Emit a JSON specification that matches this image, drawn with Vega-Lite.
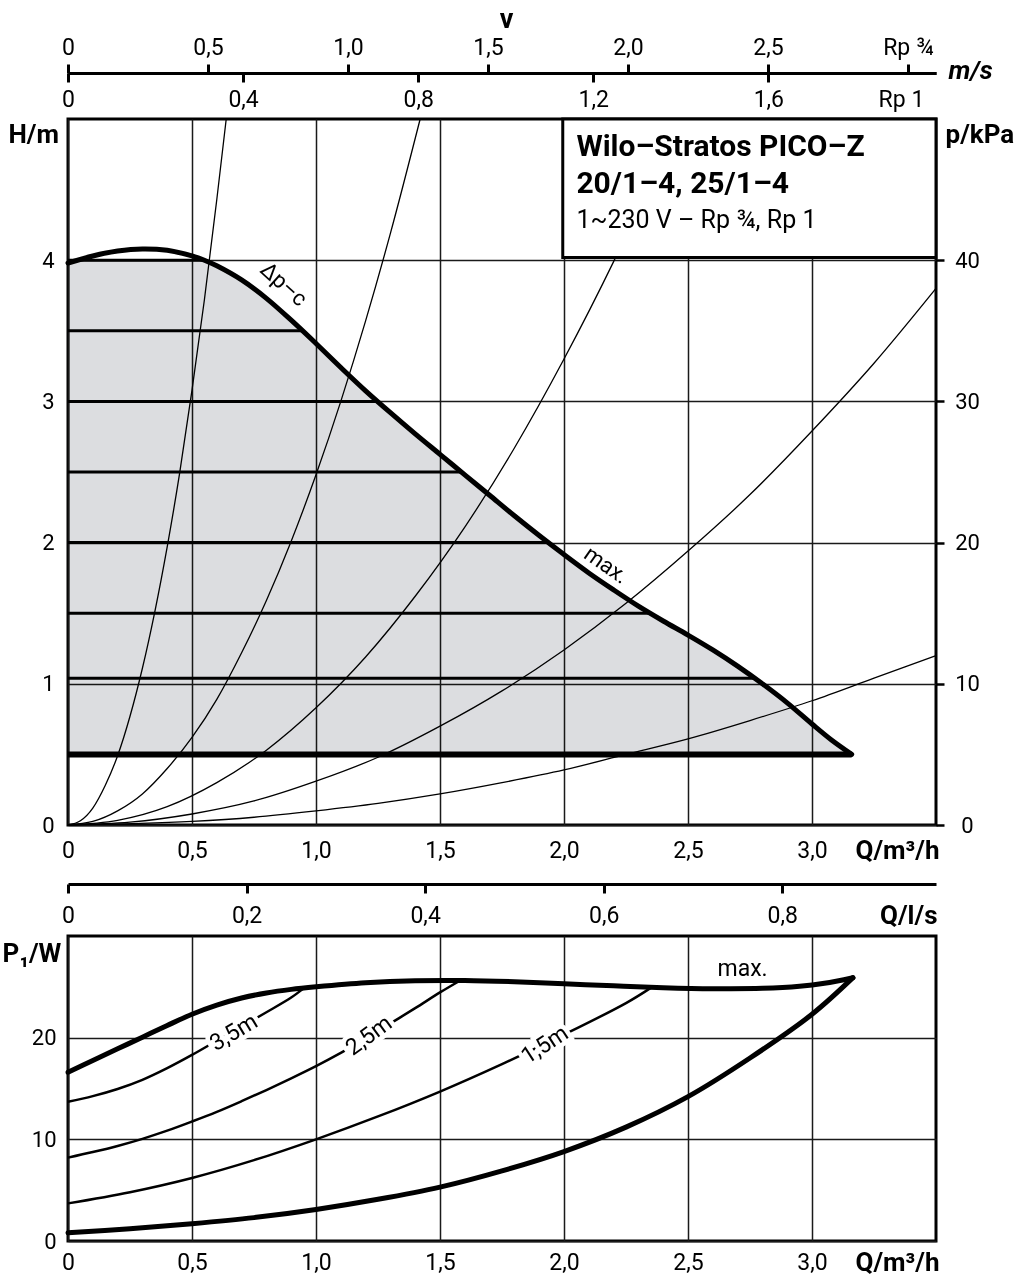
{
"$schema": "https://vega.github.io/schema/vega-lite/v6.json",
"background": "white",
"padding": {"left": 0, "top": 3, "right": 2, "bottom": 2},
"bounds": "flush",
"spacing": 111,
"config": {
  "font": "Roboto",
  "view": {"stroke": "black", "strokeWidth": 3},
  "axis": {"labelFont": "Roboto", "labelFontSize": 22, "labelColor": "black", "titleFont": "Roboto", "titleFontSize": 26, "titleFontWeight": "bold", "titleColor": "black", "gridColor": "#1a1a1a", "gridWidth": 1.5, "gridOpacity": 1, "domain": false, "ticks": false, "labelFlush": false, "labelOverlap": false, "labelBound": false, "tickColor": "black", "domainColor": "black"}
},
"datasets": {
  "maxH": [
    {"Q": 0, "H": 3.98, "fill": 3.98}, {"Q": 0.1, "H": 4.03, "fill": 4.0}, {"Q": 0.2, "H": 4.065, "fill": 4.0}, {"Q": 0.3, "H": 4.08, "fill": 4.0}, {"Q": 0.4, "H": 4.07, "fill": 4.0}, {"Q": 0.5, "H": 4.03, "fill": 4.0}, {"Q": 0.55, "H": 4.0, "fill": 4.0}, {"Q": 0.6, "H": 3.96, "fill": 3.96}, {"Q": 0.7, "H": 3.86, "fill": 3.86}, {"Q": 0.8, "H": 3.73, "fill": 3.73}, {"Q": 0.9, "H": 3.575, "fill": 3.575}, {"Q": 1.0, "H": 3.41, "fill": 3.41}, {"Q": 1.1, "H": 3.24, "fill": 3.24}, {"Q": 1.2, "H": 3.075, "fill": 3.075}, {"Q": 1.3, "H": 2.92, "fill": 2.92}, {"Q": 1.4, "H": 2.77, "fill": 2.77}, {"Q": 1.5, "H": 2.625, "fill": 2.625}, {"Q": 1.6, "H": 2.48, "fill": 2.48}, {"Q": 1.7, "H": 2.335, "fill": 2.335}, {"Q": 1.8, "H": 2.19, "fill": 2.19}, {"Q": 1.9, "H": 2.05, "fill": 2.05}, {"Q": 2.0, "H": 1.915, "fill": 1.915}, {"Q": 2.1, "H": 1.785, "fill": 1.785}, {"Q": 2.2, "H": 1.665, "fill": 1.665}, {"Q": 2.3, "H": 1.55, "fill": 1.55}, {"Q": 2.4, "H": 1.445, "fill": 1.445}, {"Q": 2.5, "H": 1.345, "fill": 1.345}, {"Q": 2.6, "H": 1.24, "fill": 1.24}, {"Q": 2.7, "H": 1.125, "fill": 1.125}, {"Q": 2.8, "H": 1.0, "fill": 1.0}, {"Q": 2.9, "H": 0.865, "fill": 0.865}, {"Q": 3.0, "H": 0.715, "fill": 0.715}, {"Q": 3.08, "H": 0.6, "fill": 0.6}, {"Q": 3.16, "H": 0.5, "fill": 0.5}
  ],
  "dpc": [
    {"H": 4.0, "Q0": 0, "Q1": 0.55}, {"H": 3.5, "Q0": 0, "Q1": 0.945}, {"H": 3.0, "Q0": 0, "Q1": 1.25}, {"H": 2.5, "Q0": 0, "Q1": 1.585}, {"H": 2.0, "Q0": 0, "Q1": 1.935}, {"H": 1.5, "Q0": 0, "Q1": 2.345}, {"H": 1.04, "Q0": 0, "Q1": 2.77}, {"H": 0.5, "Q0": 0, "Q1": 3.16}
  ],
  "sys": [
    {"c": "A", "Q": 0, "H": 0}, {"c": "A", "Q": 0.05, "H": 0.03}, {"c": "A", "Q": 0.1, "H": 0.12}, {"c": "A", "Q": 0.15, "H": 0.28}, {"c": "A", "Q": 0.2, "H": 0.49}, {"c": "A", "Q": 0.25, "H": 0.77}, {"c": "A", "Q": 0.3, "H": 1.11}, {"c": "A", "Q": 0.35, "H": 1.51}, {"c": "A", "Q": 0.4, "H": 1.97}, {"c": "A", "Q": 0.45, "H": 2.49}, {"c": "A", "Q": 0.5, "H": 3.08}, {"c": "A", "Q": 0.55, "H": 3.72}, {"c": "A", "Q": 0.6, "H": 4.43}, {"c": "A", "Q": 0.638, "H": 5.0},
    {"c": "B", "Q": 0, "H": 0}, {"c": "B", "Q": 0.1, "H": 0.025}, {"c": "B", "Q": 0.2, "H": 0.1}, {"c": "B", "Q": 0.3, "H": 0.22}, {"c": "B", "Q": 0.4, "H": 0.4}, {"c": "B", "Q": 0.5, "H": 0.62}, {"c": "B", "Q": 0.6, "H": 0.89}, {"c": "B", "Q": 0.7, "H": 1.22}, {"c": "B", "Q": 0.8, "H": 1.59}, {"c": "B", "Q": 0.9, "H": 2.01}, {"c": "B", "Q": 1.0, "H": 2.48}, {"c": "B", "Q": 1.1, "H": 3.0}, {"c": "B", "Q": 1.2, "H": 3.57}, {"c": "B", "Q": 1.3, "H": 4.19}, {"c": "B", "Q": 1.42, "H": 5.0},
    {"c": "C", "Q": 0, "H": 0}, {"c": "C", "Q": 0.2, "H": 0.033}, {"c": "C", "Q": 0.4, "H": 0.13}, {"c": "C", "Q": 0.6, "H": 0.3}, {"c": "C", "Q": 0.8, "H": 0.53}, {"c": "C", "Q": 1.0, "H": 0.83}, {"c": "C", "Q": 1.2, "H": 1.19}, {"c": "C", "Q": 1.4, "H": 1.62}, {"c": "C", "Q": 1.6, "H": 2.11}, {"c": "C", "Q": 1.8, "H": 2.67}, {"c": "C", "Q": 2.0, "H": 3.3}, {"c": "C", "Q": 2.2, "H": 3.99}, {"c": "C", "Q": 2.4, "H": 4.75},
    {"c": "D", "Q": 0, "H": 0}, {"c": "D", "Q": 0.25, "H": 0.02}, {"c": "D", "Q": 0.5, "H": 0.078}, {"c": "D", "Q": 0.75, "H": 0.17}, {"c": "D", "Q": 1.0, "H": 0.31}, {"c": "D", "Q": 1.25, "H": 0.48}, {"c": "D", "Q": 1.5, "H": 0.7}, {"c": "D", "Q": 1.75, "H": 0.95}, {"c": "D", "Q": 2.0, "H": 1.24}, {"c": "D", "Q": 2.25, "H": 1.57}, {"c": "D", "Q": 2.5, "H": 1.94}, {"c": "D", "Q": 2.75, "H": 2.34}, {"c": "D", "Q": 3.0, "H": 2.79}, {"c": "D", "Q": 3.25, "H": 3.27}, {"c": "D", "Q": 3.5, "H": 3.8},
    {"c": "E", "Q": 0, "H": 0}, {"c": "E", "Q": 0.5, "H": 0.025}, {"c": "E", "Q": 0.75, "H": 0.055}, {"c": "E", "Q": 1.0, "H": 0.1}, {"c": "E", "Q": 1.25, "H": 0.153}, {"c": "E", "Q": 1.5, "H": 0.22}, {"c": "E", "Q": 1.75, "H": 0.3}, {"c": "E", "Q": 2.0, "H": 0.39}, {"c": "E", "Q": 2.25, "H": 0.5}, {"c": "E", "Q": 2.5, "H": 0.61}, {"c": "E", "Q": 2.75, "H": 0.74}, {"c": "E", "Q": 3.0, "H": 0.88}, {"c": "E", "Q": 3.25, "H": 1.04}, {"c": "E", "Q": 3.5, "H": 1.2}
  ],
  "box": [{"Q0": 1.995, "Q1": 3.5, "H0": 4.02, "H1": 5.0}],
  "boxText": [
    {"line": 1, "text": "Wilo–Stratos PICO–Z", "Q": 2.05, "H": 4.736},
    {"line": 2, "text": "20/1–4, 25/1–4", "Q": 2.05, "H": 4.475},
    {"line": 3, "text": "1~230 V – Rp ¾, Rp 1", "Q": 2.05, "H": 4.227}
  ],
  "topLab": [{"text": "Δp–c", "Q": 0.87, "H": 3.83}, {"text": "max.", "Q": 2.17, "H": 1.84}],
  "pAxis": [{"p": 0}, {"p": 50}],
  "vRp34": [{"v": 0}, {"v": 3.1}],
  "vRp1": [{"v": 0}, {"v": 1.983}],
  "qls": [{"q": 0}, {"q": 0.9722}],
  "p1": [
    {"c": "max", "Q": 0, "P": 16.6}, {"c": "max", "Q": 0.1, "P": 17.75}, {"c": "max", "Q": 0.2, "P": 18.9}, {"c": "max", "Q": 0.3, "P": 20.05}, {"c": "max", "Q": 0.4, "P": 21.2}, {"c": "max", "Q": 0.5, "P": 22.3}, {"c": "max", "Q": 0.6, "P": 23.2}, {"c": "max", "Q": 0.7, "P": 23.9}, {"c": "max", "Q": 0.8, "P": 24.4}, {"c": "max", "Q": 0.9, "P": 24.75}, {"c": "max", "Q": 1.0, "P": 25.0}, {"c": "max", "Q": 1.2, "P": 25.4}, {"c": "max", "Q": 1.4, "P": 25.6}, {"c": "max", "Q": 1.6, "P": 25.62}, {"c": "max", "Q": 1.8, "P": 25.5}, {"c": "max", "Q": 2.0, "P": 25.3}, {"c": "max", "Q": 2.2, "P": 25.1}, {"c": "max", "Q": 2.4, "P": 24.92}, {"c": "max", "Q": 2.6, "P": 24.82}, {"c": "max", "Q": 2.8, "P": 24.85}, {"c": "max", "Q": 2.95, "P": 25.05}, {"c": "max", "Q": 3.05, "P": 25.35}, {"c": "max", "Q": 3.165, "P": 25.9},
    {"c": "min", "Q": 0, "P": 0.8}, {"c": "min", "Q": 0.25, "P": 1.2}, {"c": "min", "Q": 0.5, "P": 1.7}, {"c": "min", "Q": 0.75, "P": 2.3}, {"c": "min", "Q": 1.0, "P": 3.1}, {"c": "min", "Q": 1.25, "P": 4.1}, {"c": "min", "Q": 1.5, "P": 5.3}, {"c": "min", "Q": 1.75, "P": 6.9}, {"c": "min", "Q": 2.0, "P": 8.8}, {"c": "min", "Q": 2.25, "P": 11.2}, {"c": "min", "Q": 2.5, "P": 14.2}, {"c": "min", "Q": 2.75, "P": 18.0}, {"c": "min", "Q": 3.0, "P": 22.3}, {"c": "min", "Q": 3.165, "P": 25.9},
    {"c": "3,5m", "Q": 0, "P": 13.7}, {"c": "3,5m", "Q": 0.1, "P": 14.25}, {"c": "3,5m", "Q": 0.2, "P": 14.95}, {"c": "3,5m", "Q": 0.3, "P": 15.85}, {"c": "3,5m", "Q": 0.4, "P": 17.0}, {"c": "3,5m", "Q": 0.5, "P": 18.3}, {"c": "3,5m", "Q": 0.6, "P": 19.7}, {"c": "3,5m", "Q": 0.7, "P": 21.1}, {"c": "3,5m", "Q": 0.8, "P": 22.5}, {"c": "3,5m", "Q": 0.9, "P": 23.95}, {"c": "3,5m", "Q": 0.95, "P": 24.85},
    {"c": "2,5m", "Q": 0, "P": 8.2}, {"c": "2,5m", "Q": 0.1, "P": 8.75}, {"c": "2,5m", "Q": 0.2, "P": 9.35}, {"c": "2,5m", "Q": 0.3, "P": 10.05}, {"c": "2,5m", "Q": 0.4, "P": 10.85}, {"c": "2,5m", "Q": 0.5, "P": 11.75}, {"c": "2,5m", "Q": 0.6, "P": 12.7}, {"c": "2,5m", "Q": 0.7, "P": 13.75}, {"c": "2,5m", "Q": 0.8, "P": 14.85}, {"c": "2,5m", "Q": 0.9, "P": 16.0}, {"c": "2,5m", "Q": 1.0, "P": 17.2}, {"c": "2,5m", "Q": 1.1, "P": 18.5}, {"c": "2,5m", "Q": 1.2, "P": 19.9}, {"c": "2,5m", "Q": 1.3, "P": 21.4}, {"c": "2,5m", "Q": 1.4, "P": 22.9}, {"c": "2,5m", "Q": 1.5, "P": 24.45}, {"c": "2,5m", "Q": 1.58, "P": 25.6},
    {"c": "1,5m", "Q": 0, "P": 3.7}, {"c": "1,5m", "Q": 0.25, "P": 4.8}, {"c": "1,5m", "Q": 0.5, "P": 6.2}, {"c": "1,5m", "Q": 0.75, "P": 7.95}, {"c": "1,5m", "Q": 1.0, "P": 10.0}, {"c": "1,5m", "Q": 1.25, "P": 12.25}, {"c": "1,5m", "Q": 1.5, "P": 14.7}, {"c": "1,5m", "Q": 1.75, "P": 17.4}, {"c": "1,5m", "Q": 2.0, "P": 20.3}, {"c": "1,5m", "Q": 2.25, "P": 23.4}, {"c": "1,5m", "Q": 2.35, "P": 24.9}
  ],
  "p1Lab": [
    {"text": "3,5m", "Q": 0.669, "P": 20.5},
    {"text": "2,5m", "Q": 1.214, "P": 20.2},
    {"text": "1,5m", "Q": 1.923, "P": 19.3},
    {"text": "max.", "Q": 2.72, "P": 26.8}
  ]
},
"vconcat": [
  {
    "width": 868,
    "height": 706,
    "resolve": {"scale": {"x": "independent", "y": "independent"}},
    "layer": [
      {
        "data": {"name": "maxH"},
        "mark": {"type": "area", "fill": "#dcdde0", "blend": "multiply", "interpolate": "catmull-rom"},
        "encoding": {
          "x": {"field": "Q", "type": "quantitative", "scale": {"domain": [0, 3.5], "nice": false},
            "axis": {"orient": "bottom", "values": [0, 0.5, 1, 1.5, 2, 2.5, 3], "grid": true, "labelExpr": "datum.value==0?'0':replace(format(datum.value,'.1f'),'.',',')", "labelPadding": 25, "labelBaseline": "middle", "labelFontSize": 23, "title": "Q/m³/h", "titleX": 871, "titleY": 25, "titleAlign": "right", "titleBaseline": "middle"}},
          "y": {"field": "fill", "type": "quantitative", "scale": {"domain": [0, 5], "nice": false},
            "axis": {"orient": "left", "values": [0, 1, 2, 3, 4], "grid": true, "format": "d", "labelPadding": 14, "labelBaseline": "middle", "title": "H/m", "titleAngle": 0, "titleX": -60, "titleY": 15, "titleAlign": "left", "titleBaseline": "middle"}},
          "y2": {"datum": 0.5}
        }
      },
      {
        "data": {"name": "sys"},
        "mark": {"type": "line", "color": "black", "strokeWidth": 1.3, "interpolate": "monotone"},
        "encoding": {
          "x": {"field": "Q", "type": "quantitative", "scale": {"domain": [0, 3.5], "nice": false}, "axis": null},
          "y": {"field": "H", "type": "quantitative", "scale": {"domain": [0, 5], "nice": false}, "axis": null},
          "detail": {"field": "c"}
        }
      },
      {
        "data": {"name": "dpc"},
        "transform": [{"filter": "datum.H > 0.6"}],
        "mark": {"type": "rule", "color": "black", "strokeWidth": 3},
        "encoding": {
          "x": {"field": "Q0", "type": "quantitative", "scale": {"domain": [0, 3.5], "nice": false}, "axis": null},
          "x2": {"field": "Q1"},
          "y": {"field": "H", "type": "quantitative", "scale": {"domain": [0, 5], "nice": false}, "axis": null}
        }
      },
      {
        "data": {"name": "dpc"},
        "transform": [{"filter": "datum.H < 0.6"}],
        "mark": {"type": "rule", "color": "black", "strokeWidth": 6},
        "encoding": {
          "x": {"field": "Q0", "type": "quantitative", "scale": {"domain": [0, 3.5], "nice": false}, "axis": null},
          "x2": {"field": "Q1"},
          "y": {"field": "H", "type": "quantitative", "scale": {"domain": [0, 5], "nice": false}, "axis": null}
        }
      },
      {
        "data": {"name": "maxH"},
        "mark": {"type": "line", "color": "black", "strokeWidth": 5, "interpolate": "catmull-rom", "strokeJoin": "round", "strokeCap": "round"},
        "encoding": {
          "x": {"field": "Q", "type": "quantitative", "scale": {"domain": [0, 3.5], "nice": false}, "axis": null},
          "y": {"field": "H", "type": "quantitative", "scale": {"domain": [0, 5], "nice": false}, "axis": null}
        }
      },
      {
        "data": {"name": "box"},
        "mark": {"type": "rect", "fill": "white", "stroke": "black", "strokeWidth": 3},
        "encoding": {
          "x": {"field": "Q0", "type": "quantitative", "scale": {"domain": [0, 3.5], "nice": false}, "axis": null},
          "x2": {"field": "Q1"},
          "y": {"field": "H0", "type": "quantitative", "scale": {"domain": [0, 5], "nice": false}, "axis": null},
          "y2": {"field": "H1"}
        }
      },
      {
        "data": {"name": "boxText"},
        "transform": [{"filter": "datum.line < 3"}],
        "mark": {"type": "text", "align": "left", "baseline": "alphabetic", "fontSize": 30, "fontWeight": "bold", "color": "black"},
        "encoding": {
          "x": {"field": "Q", "type": "quantitative", "scale": {"domain": [0, 3.5], "nice": false}, "axis": null},
          "y": {"field": "H", "type": "quantitative", "scale": {"domain": [0, 5], "nice": false}, "axis": null},
          "text": {"field": "text"}
        }
      },
      {
        "data": {"name": "boxText"},
        "transform": [{"filter": "datum.line == 3"}],
        "mark": {"type": "text", "align": "left", "baseline": "alphabetic", "fontSize": 25, "color": "black"},
        "encoding": {
          "x": {"field": "Q", "type": "quantitative", "scale": {"domain": [0, 3.5], "nice": false}, "axis": null},
          "y": {"field": "H", "type": "quantitative", "scale": {"domain": [0, 5], "nice": false}, "axis": null},
          "text": {"field": "text"}
        }
      },
      {
        "data": {"name": "topLab"},
        "transform": [{"filter": "datum.text == 'max.'"}],
        "mark": {"type": "text", "align": "center", "baseline": "middle", "fontSize": 22, "angle": 35, "color": "black"},
        "encoding": {
          "x": {"field": "Q", "type": "quantitative", "scale": {"domain": [0, 3.5], "nice": false}, "axis": null},
          "y": {"field": "H", "type": "quantitative", "scale": {"domain": [0, 5], "nice": false}, "axis": null},
          "text": {"field": "text"}
        }
      },
      {
        "data": {"name": "topLab"},
        "transform": [{"filter": "datum.text != 'max.'"}],
        "mark": {"type": "text", "align": "center", "baseline": "middle", "fontSize": 22, "angle": 42, "color": "black"},
        "encoding": {
          "x": {"field": "Q", "type": "quantitative", "scale": {"domain": [0, 3.5], "nice": false}, "axis": null},
          "y": {"field": "H", "type": "quantitative", "scale": {"domain": [0, 5], "nice": false}, "axis": null},
          "text": {"field": "text"}
        }
      },
      {
        "data": {"name": "pAxis"},
        "mark": {"type": "point", "opacity": 0},
        "encoding": {
          "x": {"field": "p", "type": "quantitative", "axis": null},
          "y": {"field": "p", "type": "quantitative", "scale": {"domain": [0, 50], "nice": false},
            "axis": {"orient": "right", "values": [0, 10, 20, 30, 40], "format": "d", "ticks": true, "tickSize": 8, "tickWidth": 2.5, "labelAlign": "center", "labelPadding": 23, "labelBaseline": "middle", "grid": false, "title": "p/kPa", "titleAngle": 0, "titleX": 9, "titleY": 15, "titleAlign": "left", "titleBaseline": "middle"}}
        }
      },
      {
        "data": {"name": "vRp34"},
        "mark": {"type": "point", "opacity": 0},
        "encoding": {
          "y": {"field": "v", "type": "quantitative", "axis": null},
          "x": {"field": "v", "type": "quantitative", "scale": {"domain": [0, 3.1], "nice": false},
            "axis": {"orient": "top", "offset": 46, "domain": true, "domainWidth": 3, "ticks": true, "tickSize": 9, "tickWidth": 3, "values": [0, 0.5, 1, 1.5, 2, 2.5, 3], "labelExpr": "datum.value==3?'Rp ¾':(datum.value==0?'0':replace(format(datum.value,'.1f'),'.',','))", "labelPadding": 17, "labelBaseline": "middle", "labelFontSize": 23, "grid": false, "title": "v", "titleX": 438, "titleY": -54, "titleAlign": "center", "titleBaseline": "middle", "titleFontSize": 27}}
        }
      },
      {
        "data": {"name": "vRp1"},
        "mark": {"type": "point", "opacity": 0},
        "encoding": {
          "y": {"field": "v", "type": "quantitative", "axis": null},
          "x": {"field": "v", "type": "quantitative", "scale": {"domain": [0, 1.983], "nice": false},
            "axis": {"orient": "top", "offset": 46, "domain": true, "domainWidth": 3, "ticks": true, "tickSize": -9, "tickWidth": 3, "tickOpacity": {"condition": {"test": "datum.value > 1.8", "value": 0}, "value": 1}, "values": [0, 0.4, 0.8, 1.2, 1.6, 1.903], "labelExpr": "datum.value>1.8?'Rp 1':(datum.value==0?'0':replace(format(datum.value,'.1f'),'.',','))", "labelPadding": -17, "labelBaseline": "middle", "labelFontSize": 23, "grid": false, "title": "m/s", "titleX": 880, "titleY": -3, "titleAlign": "left", "titleBaseline": "middle", "titleFontSize": 26, "titleFontStyle": "italic"}}
        }
      },
      {
        "data": {"name": "qls"},
        "mark": {"type": "point", "opacity": 0},
        "encoding": {
          "y": {"field": "q", "type": "quantitative", "axis": null},
          "x": {"field": "q", "type": "quantitative", "scale": {"domain": [0, 0.9722], "nice": false},
            "axis": {"orient": "bottom", "offset": 59, "domain": true, "domainWidth": 3, "ticks": true, "tickSize": 9, "tickWidth": 3, "values": [0, 0.2, 0.4, 0.6, 0.8], "labelExpr": "datum.value==0?'0':replace(format(datum.value,'.1f'),'.',',')", "labelPadding": 22, "labelBaseline": "middle", "labelFontSize": 23, "grid": false, "title": "Q/l/s", "titleX": 869, "titleY": 31, "titleAlign": "right", "titleBaseline": "middle"}}
        }
      }
    ]
  },
  {
    "width": 868,
    "height": 305,
    "layer": [
      {
        "data": {"name": "p1"},
        "transform": [{"filter": "datum.c == 'max' || datum.c == 'min'"}],
        "mark": {"type": "line", "color": "black", "strokeWidth": 5, "interpolate": "catmull-rom", "strokeJoin": "round", "strokeCap": "round"},
        "encoding": {
          "x": {"field": "Q", "type": "quantitative", "scale": {"domain": [0, 3.5], "nice": false},
            "axis": {"values": [0, 0.5, 1, 1.5, 2, 2.5, 3], "grid": true, "labelExpr": "datum.value==0?'0':replace(format(datum.value,'.1f'),'.',',')", "labelPadding": 21, "labelBaseline": "middle", "labelFontSize": 23, "title": "Q/m³/h", "titleX": 871, "titleY": 21, "titleAlign": "right", "titleBaseline": "middle"}},
          "y": {"field": "P", "type": "quantitative", "scale": {"domain": [0, 30], "nice": false},
            "axis": {"values": [0, 10, 20], "grid": true, "format": "d", "labelPadding": 12, "labelBaseline": "middle", "title": "P₁/W", "titleAngle": 0, "titleX": -66, "titleY": 17, "titleAlign": "left", "titleBaseline": "middle"}},
          "detail": {"field": "c"}
        }
      },
      {
        "data": {"name": "p1"},
        "transform": [{"filter": "datum.c != 'max' && datum.c != 'min'"}],
        "mark": {"type": "line", "color": "black", "strokeWidth": 2.5, "interpolate": "catmull-rom"},
        "encoding": {"x": {"field": "Q", "type": "quantitative"}, "y": {"field": "P", "type": "quantitative"}, "detail": {"field": "c"}}
      },
      {
        "data": {"name": "p1Lab"},
        "transform": [{"filter": "datum.text == '3,5m'"}],
        "mark": {"type": "text", "align": "center", "baseline": "middle", "fontSize": 23, "angle": -31, "fill": "white", "stroke": "white", "strokeWidth": 9},
        "encoding": {"x": {"field": "Q", "type": "quantitative"}, "y": {"field": "P", "type": "quantitative"}, "text": {"field": "text"}}
      },
      {
        "data": {"name": "p1Lab"},
        "transform": [{"filter": "datum.text == '2,5m'"}],
        "mark": {"type": "text", "align": "center", "baseline": "middle", "fontSize": 23, "angle": -36, "fill": "white", "stroke": "white", "strokeWidth": 9},
        "encoding": {"x": {"field": "Q", "type": "quantitative"}, "y": {"field": "P", "type": "quantitative"}, "text": {"field": "text"}}
      },
      {
        "data": {"name": "p1Lab"},
        "transform": [{"filter": "datum.text == '1,5m'"}],
        "mark": {"type": "text", "align": "center", "baseline": "middle", "fontSize": 23, "angle": -33, "fill": "white", "stroke": "white", "strokeWidth": 9},
        "encoding": {"x": {"field": "Q", "type": "quantitative"}, "y": {"field": "P", "type": "quantitative"}, "text": {"field": "text"}}
      },
      {
        "data": {"name": "p1Lab"},
        "transform": [{"filter": "datum.text == '3,5m'"}],
        "mark": {"type": "text", "align": "center", "baseline": "middle", "fontSize": 23, "angle": -31, "color": "black"},
        "encoding": {"x": {"field": "Q", "type": "quantitative"}, "y": {"field": "P", "type": "quantitative"}, "text": {"field": "text"}}
      },
      {
        "data": {"name": "p1Lab"},
        "transform": [{"filter": "datum.text == '2,5m'"}],
        "mark": {"type": "text", "align": "center", "baseline": "middle", "fontSize": 23, "angle": -36, "color": "black"},
        "encoding": {"x": {"field": "Q", "type": "quantitative"}, "y": {"field": "P", "type": "quantitative"}, "text": {"field": "text"}}
      },
      {
        "data": {"name": "p1Lab"},
        "transform": [{"filter": "datum.text == '1,5m'"}],
        "mark": {"type": "text", "align": "center", "baseline": "middle", "fontSize": 23, "angle": -33, "color": "black"},
        "encoding": {"x": {"field": "Q", "type": "quantitative"}, "y": {"field": "P", "type": "quantitative"}, "text": {"field": "text"}}
      },
      {
        "data": {"name": "p1Lab"},
        "transform": [{"filter": "datum.text == 'max.'"}],
        "mark": {"type": "text", "align": "center", "baseline": "middle", "fontSize": 23, "color": "black"},
        "encoding": {"x": {"field": "Q", "type": "quantitative"}, "y": {"field": "P", "type": "quantitative"}, "text": {"field": "text"}}
      }
    ]
  }
]
}
